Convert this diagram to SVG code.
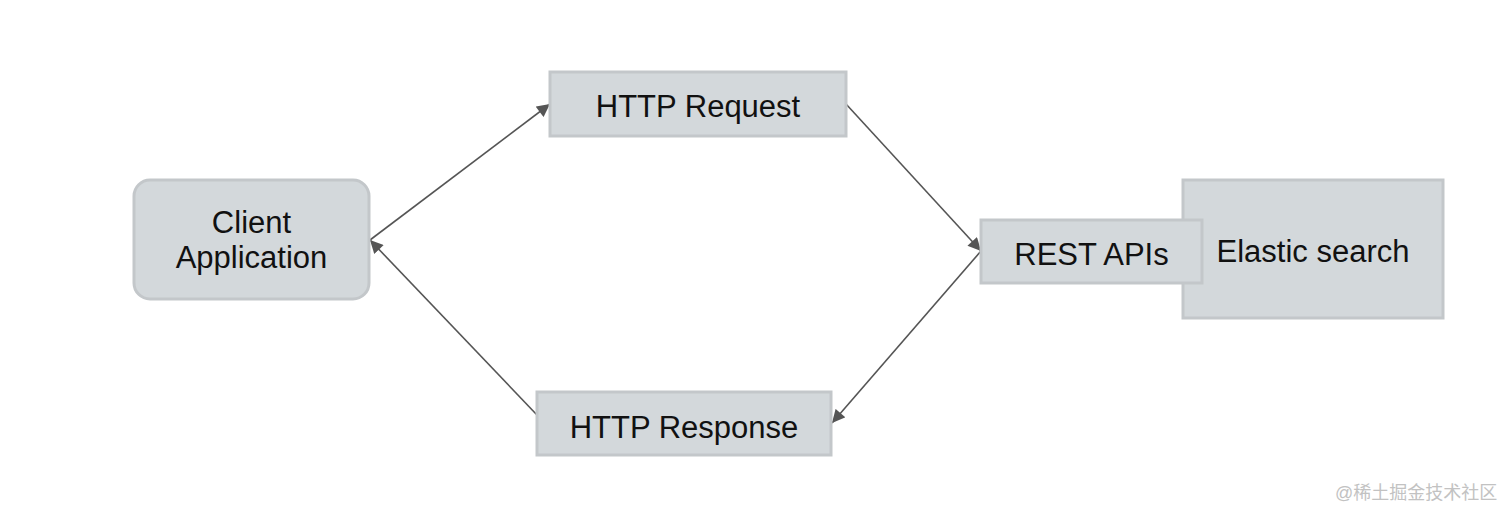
<svg xmlns="http://www.w3.org/2000/svg" width="1512" height="518" viewBox="0 0 1512 518">
<defs>
<style>
.box{fill:#d3d8db;stroke:#c3c7ca;stroke-width:3}
.lbl{font-family:"Liberation Sans",Arial,sans-serif;font-size:31px;fill:#111;text-anchor:middle}
.conn{stroke:#555;stroke-width:1.6;fill:none}
.wm{font-family:"Liberation Sans","Noto Sans CJK SC",sans-serif;font-size:18px;fill:#c2c2c2}
</style>
<marker id="ah" viewBox="0 0 10 10" refX="10" refY="5" markerWidth="14" markerHeight="13" markerUnits="userSpaceOnUse" orient="auto">
<path d="M0,0 L10,5 L0,10 z" fill="#555"/>
</marker>
</defs>
<rect width="1512" height="518" fill="#fff"/>
<g id="connectors">
<line class="conn" x1="370" y1="240" x2="550" y2="104" marker-end="url(#ah)"/>
<line class="conn" x1="846" y1="104" x2="981" y2="251" marker-end="url(#ah)"/>
<line class="conn" x1="981" y1="251" x2="832" y2="423" marker-end="url(#ah)"/>
<line class="conn" x1="537" y1="415" x2="370" y2="240" marker-end="url(#ah)"/>
</g>
<g id="client">
<rect class="box" x="134" y="180" width="235" height="119" rx="16"/>
<text class="lbl" x="251.5" y="233">Client</text>
<text class="lbl" x="251.5" y="268">Application</text>
</g>
<g id="request">
<rect class="box" x="550" y="72" width="296" height="64"/>
<text class="lbl" x="698" y="117">HTTP Request</text>
</g>
<g id="elastic">
<rect class="box" x="1183" y="180" width="260" height="138"/>
<text class="lbl" x="1313" y="262">Elastic search</text>
</g>
<g id="rest">
<rect class="box" x="981" y="220" width="221" height="63"/>
<text class="lbl" x="1091.5" y="265">REST APIs</text>
</g>
<g id="response">
<rect class="box" x="537" y="392" width="294" height="63"/>
<text class="lbl" x="684" y="438">HTTP Response</text>
</g>
<text class="wm" x="1335" y="499">@稀土掘金技术社区</text>
</svg>
